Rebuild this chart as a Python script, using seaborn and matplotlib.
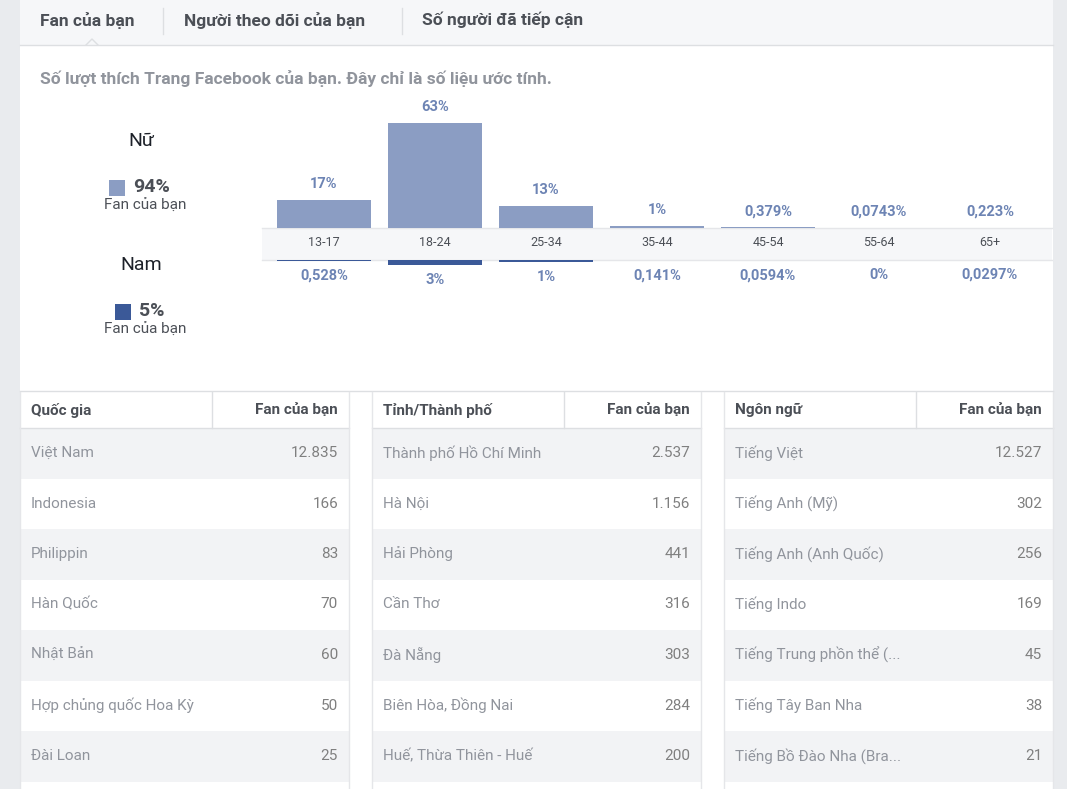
import matplotlib
matplotlib.use("Agg")
import matplotlib.pyplot as plt
import seaborn as sns
import pandas as pd
from matplotlib.patches import Rectangle

plt.rcParams["font.family"] = ["Roboto", "DejaVu Sans"]

age_groups = ["13-17", "18-24", "25-34", "35-44", "45-54", "55-64", "65+"]
female_pct = [17, 63, 13, 1, 0.379, 0.0743, 0.223]
male_pct = [0.528, 3, 1, 0.141, 0.0594, 0, 0.0297]
female_labels = ["17%", "63%", "13%", "1%", "0,379%", "0,0743%", "0,223%"]
male_labels = ["0,528%", "3%", "1%", "0,141%", "0,0594%", "0%", "0,0297%"]

tabs = ["Fan của bạn", "Người theo dõi của bạn", "Số người đã tiếp cận"]
countries = ["Việt Nam", "Indonesia", "Philippin", "Hàn Quốc", "Nhật Bản", "Hợp chủng quốc Hoa Kỳ", "Đài Loan"]
country_fans = ["12.835", "166", "83", "70", "60", "50", "25"]
cities = ["Thành phố Hồ Chí Minh", "Hà Nội", "Hải Phòng", "Cần Thơ", "Đà Nẵng", "Biên Hòa, Đồng Nai", "Huế, Thừa Thiên - Huế"]
city_fans = ["2.537", "1.156", "441", "316", "303", "284", "200"]
languages = ["Tiếng Việt", "Tiếng Anh (Mỹ)", "Tiếng Anh (Anh Quốc)", "Tiếng Indo", "Tiếng Trung phồn thể (...", "Tiếng Tây Ban Nha", "Tiếng Bồ Đào Nha (Bra..."]
language_fans = ["12.527", "302", "256", "169", "45", "38", "21"]

W, H = 1067, 789
fig = plt.figure(figsize=(W / 100, H / 100), dpi=100)
bg = fig.add_axes([0, 0, 1, 1])
bg.set_xlim(0, W); bg.set_ylim(H, 0); bg.axis("off")

def rect(x, y, w, h, c, z=0, ec="none"):
    bg.add_patch(Rectangle((x, y), w, h, facecolor=c, edgecolor=ec, zorder=z, lw=1))

rect(0, 0, W, H, "#e9ebee")
rect(20, 0, 1033, H, "#ffffff")
rect(20, 0, 1033, 45, "#f6f7f9")
bg.plot([20, 1053], [45, 45], color="#dddfe2", lw=1)
tx = [40, 184, 422]
for t, x in zip(tabs, tx):
    bg.text(x, 20, t, fontsize=12.5, fontweight="bold", color="#4b4f56", va="center")
for x in [163, 402]:
    bg.plot([x, x], [8, 34], color="#dddfe2", lw=1)
bg.plot([86, 92, 98], [45, 39, 45], color="#dddfe2", lw=1)
bg.text(40, 78, "Số lượt thích Trang Facebook của bạn. Đây chỉ là số liệu ước tính.",
        fontsize=12.5, fontweight="bold", color="#90949c", va="center")

fcol, mcol = "#8b9dc3", "#3b5998"
bg.text(141, 141, "Nữ", fontsize=14, color="#1d2129", ha="center", va="center")
rect(109, 180, 16, 16, fcol)
bg.text(133, 187, "94%", fontsize=14, fontweight="bold", color="#4b4f56", va="center")
bg.text(145, 206, "Fan của bạn", fontsize=11, color="#4b4f56", ha="center", va="center")
bg.text(141, 265, "Nam", fontsize=14, color="#1d2129", ha="center", va="center")
rect(115, 304, 16, 16, mcol)
bg.text(139, 311, "5%", fontsize=14, fontweight="bold", color="#4b4f56", va="center")
bg.text(145, 330, "Fan của bạn", fontsize=11, color="#4b4f56", ha="center", va="center")

# category band
rect(262, 228, 790, 32, "#f6f7f9")
bg.plot([262, 1052], [228, 228], color="#e5e6e9", lw=1)
bg.plot([262, 1052], [260, 260], color="#e5e6e9", lw=1)

x0, x1 = 268.5, 1045.5
scale = 105 / 63.0
fax = fig.add_axes([x0 / W, 1 - 228 / H, (x1 - x0) / W, 128 / H])
df = pd.DataFrame({"age": age_groups, "f": female_pct, "m": male_pct})
sns.barplot(data=df, x="age", y="f", color=fcol, saturation=1, width=0.84, ax=fax)
fax.set_ylim(0, 128 / scale); fax.axis("off")
for i, (v, lab) in enumerate(zip(female_pct, female_labels)):
    fax.text(i, v + 9 / scale, lab, ha="center", va="bottom", fontsize=10.5, fontweight="bold", color="#6d84b4")
    fax.text(i, -15 / scale, age_groups[i], ha="center", va="center", fontsize=9, color="#4b4f56", clip_on=False)

max_ = fig.add_axes([x0 / W, 1 - 300 / H, (x1 - x0) / W, 40 / H])
sns.barplot(data=df, x="age", y="m", color=mcol, saturation=1, width=0.84, ax=max_)
max_.set_ylim(40 / scale, 0); max_.axis("off")
for i, (v, lab) in enumerate(zip(male_pct, male_labels)):
    max_.text(i, v + 8 / scale, lab, ha="center", va="top", fontsize=10.5, fontweight="bold", color="#6d84b4")

# tables
bg.plot([20, 1053], [391, 391], color="#dddfe2", lw=1)
tables = [(20, "Quốc gia", countries, country_fans),
          (372, "Tỉnh/Thành phố", cities, city_fans),
          (724, "Ngôn ngữ", languages, language_fans)]
for x, head, names, vals in tables:
    w = 329
    rect(x, 392, w, 36, "#ffffff")
    bg.plot([x + 192, x + 192], [392, 428], color="#dddfe2", lw=1)
    bg.plot([x, x + w], [428, 428], color="#dddfe2", lw=1)
    bg.text(x + 11, 410, head, fontsize=11, fontweight="bold", color="#4b4f56", va="center")
    bg.text(x + w - 11, 410, "Fan của bạn", fontsize=11, fontweight="bold", color="#4b4f56", va="center", ha="right")
    for i, (n, v) in enumerate(zip(names, vals)):
        y = 428 + i * 50.5
        rect(x, y, w, 50.5, "#f2f3f5" if i % 2 == 0 else "#ffffff")
        bg.text(x + 11, y + 25, n, fontsize=11, color="#90949c", va="center")
        bg.text(x + w - 11, y + 25, v, fontsize=11, color="#7f7f7f", va="center", ha="right")
    bg.plot([x + w, x + w], [392, H], color="#e5e6e9", lw=1)
    bg.plot([x, x], [392, H], color="#e5e6e9", lw=1)

fig.savefig("out.png", dpi=100)
